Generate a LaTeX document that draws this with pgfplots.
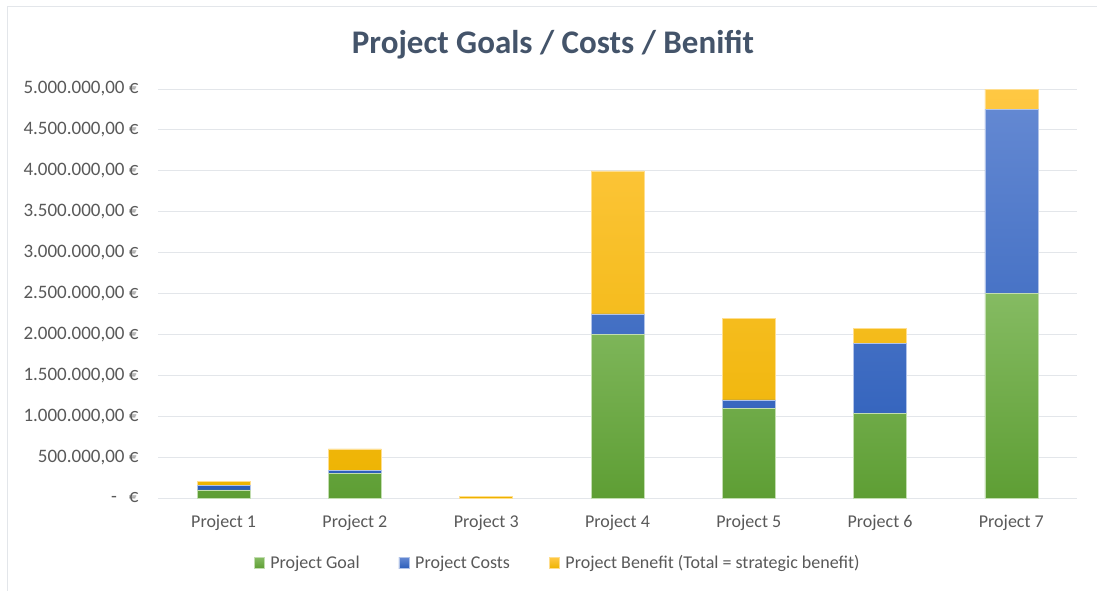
\documentclass[border=0pt]{standalone}
\usepackage{pgfplots}
\pgfplotsset{compat=1.18}
\usepackage{fontspec}
\setmainfont{Carlito}
\definecolor{txtgray}{HTML}{595959}
\definecolor{titlecol}{HTML}{44546A}
\definecolor{gridgray}{HTML}{E3E6EA}
\definecolor{gTop}{HTML}{85BB62}
\definecolor{gBot}{HTML}{5E9E34}
\definecolor{bTop}{HTML}{6388D2}
\definecolor{bBot}{HTML}{2B5DB9}
\definecolor{yTop}{HTML}{FFC843}
\definecolor{yMid}{HTML}{FFC000}
\definecolor{yBot}{HTML}{EDB300}
\begin{document}
\begin{tikzpicture}
\path[use as bounding box] (0,0) rectangle (1097pt,590pt);
\fill[white] (0,0) rectangle (1097pt,590pt);
\draw[gridgray,line width=1pt] (7pt,-10pt) -- (7pt,583pt) -- (1110pt,583pt);
\node[font=\fontsize{33}{39}\selectfont\bfseries,text=titlecol] at (553pt,545pt) {Project Goals / Costs / Benifit};
\begin{axis}[
  at={(158pt,92pt)}, anchor=south west,
  width=919pt, height=409pt, scale only axis,
  ybar stacked, bar width=53pt,
  xmin=-0.5, xmax=6.5, ymin=0, ymax=5000000,
  xtick=data,
  xticklabels={Project 1,Project 2,Project 3,Project 4,Project 5,Project 6,Project 7},
  ytick={0,500000,1000000,1500000,2000000,2500000,3000000,3500000,4000000,4500000,5000000},
  yticklabels={{-\hspace{12pt}€},{500.000,00 €},{1.000.000,00 €},{1.500.000,00 €},{2.000.000,00 €},{2.500.000,00 €},{3.000.000,00 €},{3.500.000,00 €},{4.000.000,00 €},{4.500.000,00 €},{5.000.000,00 €}},
  scaled y ticks=false,
  ymajorgrids, grid style={gridgray, line width=0.9pt},
  axis x line=bottom, axis y line=left,
  x axis line style={draw=gridgray, line width=0.9pt, -},
  y axis line style={draw=none},
  major tick length=0pt,
  ticklabel style={font=\fontsize{18}{21}\selectfont, text=txtgray},
  yticklabel style={xshift=-16pt, font=\fontsize{19}{22}\selectfont},
  xticklabel style={yshift=-14pt},
  legend style={at={(axis description cs:0.435,-0.159)}, anchor=center, draw=none, fill=none,
    font=\fontsize{18}{21}\selectfont, text=txtgray, legend columns=3,
    /tikz/every odd column/.append style={column sep=4pt},
    /tikz/every even column/.append style={column sep=37pt}},
  legend image code/.code={\fill[#1] (0pt,-5.5pt) rectangle (10pt,5.5pt);},
]
\addplot[draw=gTop!50!white, line width=0.5pt, top color=gTop, bottom color=gBot] coordinates {(0,100000) (1,300000) (2,0) (3,2000000) (4,1100000) (5,1030000) (6,2500000)};
\addplot[draw=bTop!50!white, line width=0.5pt, top color=bTop, bottom color=bBot] coordinates {(0,50000) (1,40000) (2,0) (3,250000) (4,100000) (5,860000) (6,2250000)};
\addplot[draw=yTop!60!white, line width=0.5pt, top color=yTop, middle color=yMid, bottom color=yBot] coordinates {(0,50000) (1,260000) (2,20000) (3,1750000) (4,1000000) (5,180000) (6,250000)};
\legend{Project Goal, Project Costs, Project Benefit (Total = strategic benefit)}
\end{axis}
\end{tikzpicture}
\end{document}
